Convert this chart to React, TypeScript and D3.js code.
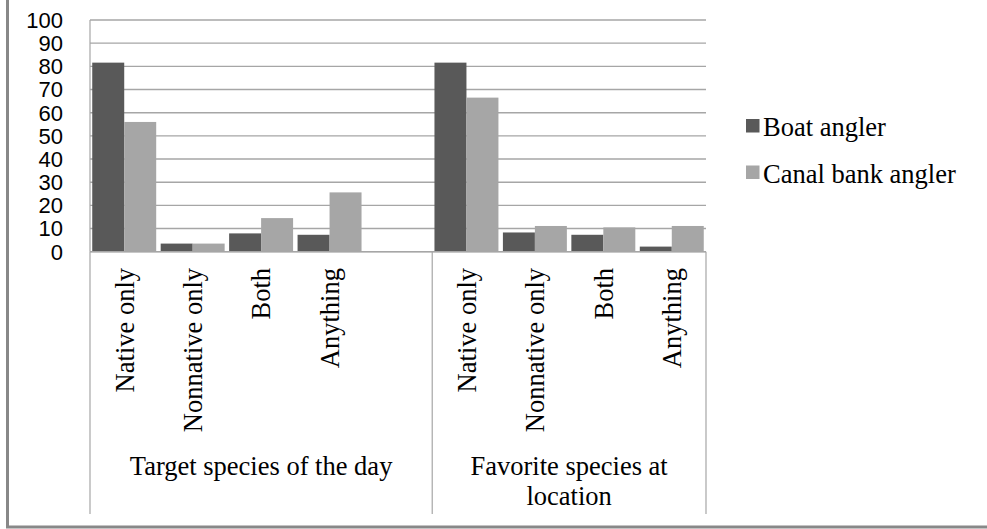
import React from "react";
import * as d3 from "d3";

const groups = ["Target species of the day", "Favorite species at location"];
const groupLabelLines = [["Target species of the day"], ["Favorite species at", "location"]];
const categories = [
  { group: 0, label: "Native only" },
  { group: 0, label: "Nonnative only" },
  { group: 0, label: "Both" },
  { group: 0, label: "Anything" },
  { group: 0, label: "" },
  { group: 1, label: "Native only" },
  { group: 1, label: "Nonnative only" },
  { group: 1, label: "Both" },
  { group: 1, label: "Anything" },
];
const seriesNames = ["Boat angler", "Canal bank angler"];
const boatValues = [81.6, 3.5, 7.9, 7.3, null, 81.6, 8.3, 7.3, 2.2];
const canalValues = [56.0, 3.5, 14.5, 25.6, null, 66.5, 11.1, 10.5, 11.1];
const yTicks = [0, 10, 20, 30, 40, 50, 60, 70, 80, 90, 100];
const colors = ["#595959", "#a6a6a6"];

const SERIF = "'Liberation Serif', 'Times New Roman', Times, serif";
const SANS = "'Liberation Sans', Arial, sans-serif";

export default function App() {
  const W = 987, H = 529;
  const left = 90, right = 706, top = 20, bottom = 251.7;
  const x = d3.scaleBand<number>().domain(d3.range(categories.length)).range([left, right]).paddingInner(0).paddingOuter(0);
  const y = d3.scaleLinear().domain([0, 100]).range([bottom, top]);
  const inner = d3.scaleBand<number>().domain([0, 1]).range([0, x.bandwidth()]).paddingInner(0).paddingOuter(0.07);
  const series = [boatValues, canalValues];
  const groupBounds = groups.map((_, g) => {
    const idx = categories.map((c, i) => (c.group === g ? i : -1)).filter((i) => i >= 0);
    return [x(idx[0])!, x(idx[idx.length - 1])! + x.bandwidth()];
  });
  const sepXs = [left, ...groupBounds.map((b) => b[1])];
  const grid = "#a6a6a6";

  return (
    <svg width={W} height={H} style={{ position: "absolute", left: 0, top: 0, background: "#fff" }}>
      <rect x={0} y={0} width={W} height={H} fill="#fff" />
      {/* frame */}
      <line x1={7.5} y1={0} x2={7.5} y2={527.5} stroke="#888" strokeWidth={3} />
      <line x1={6} y1={527} x2={W} y2={527} stroke="#888" strokeWidth={3} />
      {/* gridlines */}
      {yTicks.map((t) => (
        <line key={t} x1={left} x2={right} y1={y(t)} y2={y(t)} stroke={grid} strokeWidth={1.4} />
      ))}
      <line x1={left} x2={left} y1={top} y2={bottom} stroke={grid} strokeWidth={1.2} />
      {/* tick labels */}
      {yTicks.map((t) => (
        <text key={t} x={63} y={y(t)} dy="0.36em" textAnchor="end" style={{ fontFamily: SANS }} fontSize={22} fill="#000">
          {t}
        </text>
      ))}
      {/* bars */}
      {series.map((vals, s) =>
        vals.map((v, i) =>
          v == null ? null : (
            <rect key={`${s}-${i}`} x={x(i)! + inner(s)!} y={y(v)} width={inner.bandwidth()} height={bottom - y(v)} fill={colors[s]} />
          )
        )
      )}
      <line x1={left} x2={right} y1={bottom} y2={bottom} stroke={grid} strokeWidth={1.2} />
      {sepXs.map((sx, i) => (
        <line key={i} x1={sx} x2={sx} y1={bottom} y2={514} stroke={grid} strokeWidth={1.2} />
      ))}
      {/* category labels */}
      {categories.map((c, i) =>
        c.label ? (
          <text
            key={i}
            transform={`translate(${x(i)! + x.bandwidth() / 2},268) rotate(-90)`}
            dy="0.35em"
            textAnchor="end"
            style={{ fontFamily: SERIF }}
            fontSize={26.5}
            fill="#000"
          >
            {c.label}
          </text>
        ) : null
      )}
      {/* group labels */}
      {groupLabelLines.map((lines, g) =>
        lines.map((ln, k) => (
          <text
            key={`${g}-${k}`}
            x={(groupBounds[g][0] + groupBounds[g][1]) / 2}
            y={475 + k * 30}
            textAnchor="middle"
            style={{ fontFamily: SERIF }}
            fontSize={26.5}
            fill="#000"
          >
            {ln}
          </text>
        ))
      )}
      {/* legend */}
      {seriesNames.map((n, s) => (
        <g key={n} transform={`translate(746,${119 + s * 46.5})`}>
          <rect x={0} y={0} width={13.5} height={13.5} fill={colors[s]} />
          <text x={17} y={17} style={{ fontFamily: SERIF }} fontSize={26.5} fill="#000">
            {n}
          </text>
        </g>
      ))}
    </svg>
  );
}
